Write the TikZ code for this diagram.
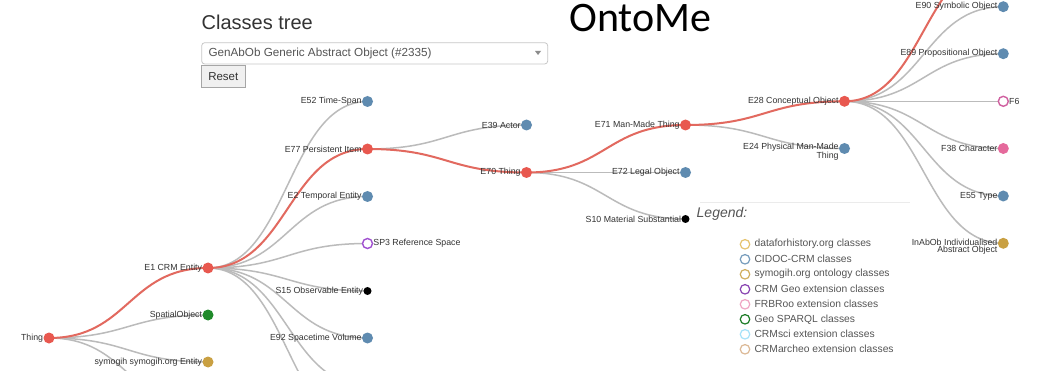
\documentclass[tikz,border=0pt]{standalone}
\usepackage{fontspec}
\setmainfont{Liberation Sans}
\newfontfamily\calib{Carlito}
\pgfdeclarelayer{background}
\pgfsetlayers{background,main}
\definecolor{nblue}{HTML}{5F8BB0}
\definecolor{nred}{HTML}{E8584F}
\definecolor{ngreen}{HTML}{1F8A2A}
\definecolor{ngold}{HTML}{C9A042}
\definecolor{npink}{HTML}{E56A9C}
\definecolor{npurple}{HTML}{A050D0}
\definecolor{nf6}{HTML}{D060A0}
\definecolor{lgray}{HTML}{BBBBBB}
\definecolor{lred}{HTML}{E2695F}
\definecolor{txt}{HTML}{333333}
\definecolor{soft}{HTML}{555555}
\definecolor{dfh}{HTML}{E6C36E}
\tikzset{
  lbl/.style={font=\fontsize{8.8}{7}\selectfont, text=txt, inner sep=0pt},
  nd/.style={circle, inner sep=0pt, minimum size=11pt, draw=none, fill=#1, label distance=4pt},
  sm/.style={circle, inner sep=0pt, minimum size=8pt, draw=none, fill=black, label distance=5.5pt},
  hol/.style={circle, inner sep=0pt, minimum size=10pt, draw=#1, line width=1.4pt, fill=white, label distance=5pt},
  glink/.style={draw=lgray, line width=1.5pt},
  rlink/.style={draw=lred, line width=2pt},
  lgc/.style={circle, inner sep=0pt, minimum size=9.5pt, draw=#1, line width=1.2pt, fill=white},
  lgt/.style={font=\fontsize{10.3}{10}\selectfont, text=soft, inner sep=0pt, anchor=west},
}
\newcommand\lnk[3]{\draw[#1] (#2.center) .. controls +(79.5,0) and +(-79.5,0) .. (#3.center);}
\begin{document}
\begin{tikzpicture}[x=1pt,y=-1pt]
\useasboundingbox (0,0) rectangle (1041,371);

% header
\node[font=\fontsize{20}{20}\selectfont, text=txt, anchor=base west, inner sep=0pt] (title) at (201.5,30) {Classes tree};
\node[font=\calib\fontsize{42}{42}\selectfont, anchor=base west, inner sep=0pt] (onto) at (569,31.5) {OntoMe};
\draw[draw=black!22, rounded corners=3pt, line width=0.8pt] (201.7,42.7) rectangle (547.7,64);
\node[font=\fontsize{11.7}{12}\selectfont, text=soft, anchor=west, inner sep=0pt] (sel) at (208.3,53.5) {GenAbOb Generic Abstract Object (\#2335)};
\fill[black!45] (535,51) -- (541,51) -- (538,55) -- cycle;
\draw[draw=black!35, fill=black!6, line width=0.8pt] (201.7,65) rectangle (245,87.3);
\node[font=\fontsize{11.5}{12}\selectfont, text=txt, inner sep=0pt] (reset) at (223.3,76.2) {Reset};

% tree nodes
\node[nd=nred, label={[lbl]left:Thing}] (thing) at (49,338) {};
\node[nd=nred, label={[lbl]left:E1 CRM Entity}] (e1) at (208,268) {};
\node[nd=ngreen, label={[lbl]left:SpatialObject}] (spatial) at (208,315) {};
\node[nd=ngold, label={[lbl]left:symogih symogih.org Entity}] (symogih) at (208,362) {};
\coordinate (thingx) at (208,409);
\node[nd=nblue, label={[lbl]left:E52 Time-Span}] (e52) at (367.5,101.5) {};
\node[nd=nred, label={[lbl]left:E77 Persistent Item}] (e77) at (367.5,149) {};
\node[nd=nblue, label={[lbl]left:E2 Temporal Entity}] (e2) at (367.5,196.5) {};
\node[hol=npurple, label={[lbl]right:SP3 Reference Space}] (sp3) at (367.5,243.5) {};
\node[sm, label={[lbl]left:S15 Observable Entity}] (s15) at (367.5,291) {};
\node[nd=nblue, label={[lbl]left:E92 Spacetime Volume}] (e92) at (367.5,338) {};
\coordinate (e1x) at (367.5,385.5);
\coordinate (e1y) at (367.5,432.5);
\node[nd=nblue, label={[lbl]left:E39 Actor}] (e39) at (526.5,125) {};
\node[nd=nred, label={[lbl]left:E70 Thing}] (e70) at (526.5,172.5) {};
\node[nd=nred, label={[lbl]left:E71 Man-Made Thing}] (e71) at (685.5,125) {};
\node[nd=nblue, label={[lbl]left:E72 Legal Object}] (e72) at (685.5,172.5) {};
\node[sm, label={[lbl]left:S10 Material Substantial}] (s10) at (685.5,219) {};
\node[nd=nred, label={[lbl]left:E28 Conceptual Object}] (e28) at (844.5,101.3) {};
\node[nd=nblue, label={[lbl,align=right,yshift=-3pt]left:E24 Physical Man-Made\\Thing}] (e24) at (844.5,148.5) {};
\coordinate (gen) at (1003.3,-40.5);
\node[nd=nblue, label={[lbl]left:E90 Symbolic Object}] (e90) at (1003.3,6.7) {};
\node[nd=nblue, label={[lbl]left:E89 Propositional Object}] (e89) at (1003.3,53.7) {};
\node[hol=nf6, label={[lbl]right:F6}] (f6) at (1003.3,101.3) {};
\node[nd=npink, label={[lbl]left:F38 Character}] (f38) at (1003.3,148.5) {};
\node[nd=nblue, label={[lbl]left:E55 Type}] (e55) at (1003.3,196) {};
\node[nd=ngold, label={[lbl,align=right,yshift=-3pt]left:InAbOb Individualised\\Abstract Object}] (inab) at (1003.3,243.3) {};

% links
\begin{pgfonlayer}{background}
\fill[white] (0,0) rectangle (1041,371);
\begin{scope}
\clip (0,0) rectangle (1041,371);
\lnk{glink}{thing}{spatial}
\lnk{glink}{thing}{symogih}
\lnk{glink}{thing}{thingx}
\lnk{glink}{e1}{e52}
\lnk{glink}{e1}{e2}
\lnk{glink}{e1}{sp3}
\lnk{glink}{e1}{s15}
\lnk{glink}{e1}{e92}
\lnk{glink}{e1}{e1x}
\lnk{glink}{e1}{e1y}
\lnk{glink}{e77}{e39}
\lnk{glink}{e70}{e72}
\lnk{glink}{e70}{s10}
\lnk{glink}{e71}{e24}
\lnk{glink}{e28}{e90}
\lnk{glink}{e28}{e89}
\lnk{glink}{e28}{f6}
\lnk{glink}{e28}{f38}
\lnk{glink}{e28}{e55}
\lnk{glink}{e28}{inab}
\lnk{rlink}{thing}{e1}
\lnk{rlink}{e1}{e77}
\lnk{rlink}{e77}{e70}
\lnk{rlink}{e70}{e71}
\lnk{rlink}{e71}{e28}
\lnk{rlink}{e28}{gen}
\end{scope}
\end{pgfonlayer}

% legend
\draw[draw=black!8, line width=0.8pt] (700,202.7) -- (910,202.7);
\node[font=\itshape\fontsize{14}{14}\selectfont, text=soft, anchor=west, inner sep=0pt] (legend) at (696.5,213.5) {Legend:};
\node[lgc=dfh] (l1) at (745,244.3) {};
\node[lgt] (t1) at ([xshift=4pt]l1.east) {dataforhistory.org classes};
\node[lgc=nblue!85] (l2) at (745,259.3) {};
\node[lgt] (t2) at ([xshift=4pt]l2.east) {CIDOC-CRM classes};
\node[lgc=ngold!85] (l3) at (745,274.3) {};
\node[lgt] (t3) at ([xshift=4pt]l3.east) {symogih.org ontology classes};
\node[lgc=npurple!85!black] (l4) at (745,289.3) {};
\node[lgt] (t4) at ([xshift=4pt]l4.east) {CRM Geo extension classes};
\node[lgc=npink!60] (l5) at (745,304.3) {};
\node[lgt] (t5) at ([xshift=4pt]l5.east) {FRBRoo extension classes};
\node[lgc=ngreen!90!black] (l6) at (745,319.3) {};
\node[lgt] (t6) at ([xshift=4pt]l6.east) {Geo SPARQL classes};
\node[lgc=cyan!35] (l7) at (745,334.3) {};
\node[lgt] (t7) at ([xshift=4pt]l7.east) {CRMsci extension classes};
\node[lgc=brown!55] (l8) at (745,349.3) {};
\node[lgt] (t8) at ([xshift=4pt]l8.east) {CRMarcheo extension classes};
\end{tikzpicture}
\end{document}
